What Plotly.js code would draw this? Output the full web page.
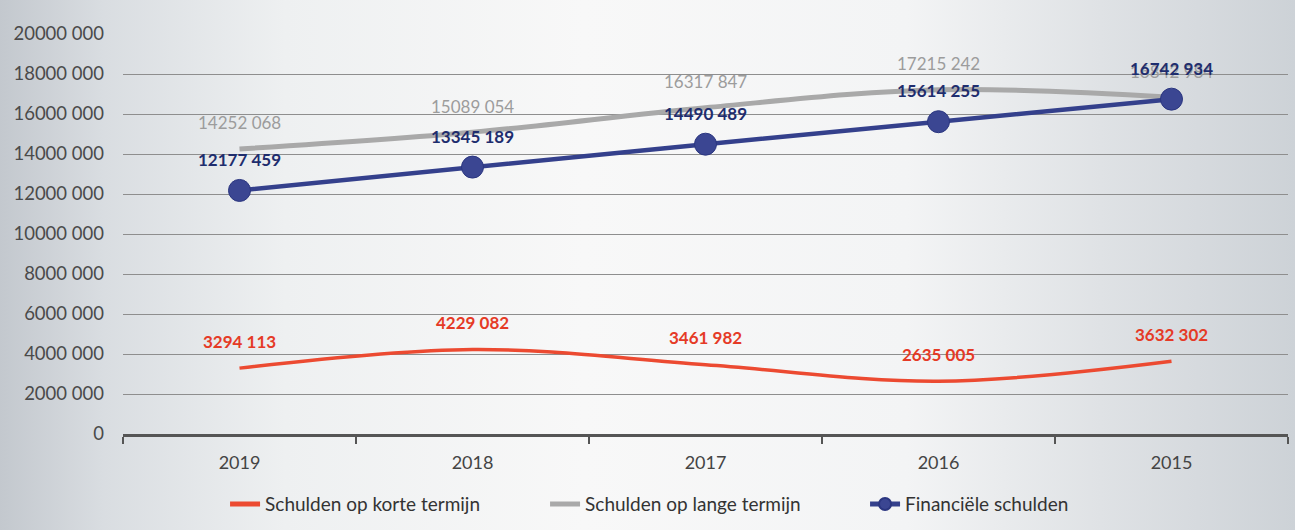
<!DOCTYPE html>
<html>
<head>
<meta charset="utf-8">
<script src="https://cdn.plot.ly/plotly-3.0.1.min.js"></script>
<style>
html, body { margin:0; padding:0; }
body {
  width:1295px; height:530px; overflow:hidden;
  background: linear-gradient(90deg, #c3c8ce 0%, #d9dde1 8%, #eef0f1 22%, #f8f8f8 45%, #f3f4f5 70%, #dfe2e5 85%, #cdd2d7 100%);
}
#chart { width:1295px; height:530px; }
</style>
</head>
<body>
<div id="chart"></div>
<script>
const years = ["2019", "2018", "2017", "2016", "2015"];
const kortSeries = [3294113, 4229082, 3461982, 2635005, 3632302];
const langSeries = [14252068, 15089054, 16317847, 17215242, 16842984];
const finSeries = [12177459, 13345189, 14490489, 15614255, 16742934];
const seriesNames = ["Schulden op korte termijn", "Schulden op lange termijn", "Financiële schulden"];
const yTickVals = [0, 2000000, 4000000, 6000000, 8000000, 10000000, 12000000, 14000000, 16000000, 18000000, 20000000];

function fmt(v) {
  if (v < 1000) return String(v);
  const hi = Math.floor(v / 1000);
  const lo = String(v % 1000).padStart(3, "0");
  return hi + " " + lo;
}

const cRed = "#ec4a31", cGray = "#a9a9a9", cBlue = "#34408c";
const labRed = "#e53a26", labGray = "#9c9c9c", labBlue = "#1e2d6e";

const traces = [
  { x: years, y: kortSeries, name: seriesNames[0], type: "scatter", mode: "lines",
    line: { color: cRed, width: 3.5, shape: "spline", smoothing: 1 } },
  { x: years, y: langSeries, name: seriesNames[1], type: "scatter", mode: "lines",
    line: { color: cGray, width: 5, shape: "spline", smoothing: 1 } },
  { x: years, y: finSeries, name: seriesNames[2], type: "scatter", mode: "lines+markers",
    line: { color: cBlue, width: 4.5 },
    marker: { color: "#3b4692", size: 22, line: { color: "#2b3680", width: 1 } } }
];

const annotations = [];
function addLabels(vals, color, bold, shift) {
  vals.forEach((v, i) => {
    annotations.push({
      x: i, y: v, xref: "x", yref: "y", showarrow: false,
      text: bold ? "<b>" + fmt(v) + "</b>" : fmt(v),
      yshift: shift, yanchor: "middle",
      font: { family: "Lato, 'Open Sans', sans-serif", size: 17, color: color }
    });
  });
}
addLabels(langSeries, labGray, false, 26);
addLabels(kortSeries, labRed, true, 27);
addLabels(finSeries, labBlue, true, 31);

const layout = {
  width: 1295, height: 530,
  paper_bgcolor: "rgba(0,0,0,0)", plot_bgcolor: "rgba(0,0,0,0)",
  margin: { l: 123, r: 7, t: 33, b: 93 },
  font: { family: "Lato, 'Open Sans', sans-serif", color: "#4a4a4a" },
  showlegend: true,
  legend: {
    orientation: "h", x: 0.0876, xanchor: "left", y: -0.175, yanchor: "middle",
    font: { size: 19, color: "#333" }, itemsizing: "constant", entrywidth: 275,
    bgcolor: "rgba(0,0,0,0)"
  },
  xaxis: {
    type: "category", range: [-0.5, 4.5], tickson: "boundaries", ticks: "outside", ticklen: 7, tickwidth: 2, tickcolor: "#555",
    showline: true, linecolor: "#555", linewidth: 2.5, showgrid: false,
    tickfont: { size: 18, color: "#444" }, ticklabelstandoff: 11, tickangle: 0
  },
  yaxis: {
    range: [0, 20050000], tickvals: yTickVals, ticktext: yTickVals.map(fmt),
    showgrid: true, gridcolor: "#8e8e8e", gridwidth: 1, zeroline: false, showline: false,
    ticks: "", tickfont: { size: 18.5, color: "#4a4a4a" }, ticklabelstandoff: 18
  },
  annotations: annotations
};

Plotly.newPlot("chart", traces, layout, { displayModeBar: false, staticPlot: true });
</script>
</body>
</html>
